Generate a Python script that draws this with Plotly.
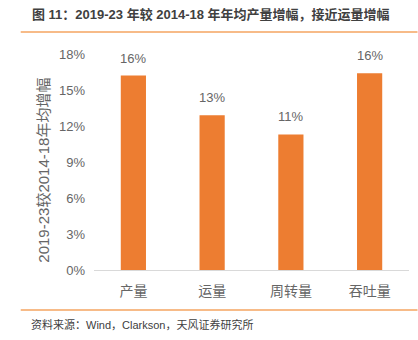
import plotly.graph_objects as go

categories = ["产量", "运量", "周转量", "吞吐量"]
values = [16.2, 12.9, 11.3, 16.4]
labels = ["16%", "13%", "11%", "16%"]
tick_vals = [0, 3, 6, 9, 12, 15, 18]
tick_text = ["0%", "3%", "6%", "9%", "12%", "15%", "18%"]

FONT = "Liberation Sans, Noto Sans CJK SC, sans-serif"
GRAY = "#666666"
ORANGE = "#ED7D31"

W, H = 418, 340
L, R, T, B = 93.5, 8.5, 54, 70
PW, PH = W - L - R, H - T - B

def px(x):
    return (x - L) / PW

def py(y):
    return (H - B - y) / PH

fig = go.Figure()
fig.add_trace(go.Bar(
    x=categories, y=values, width=0.32,
    marker=dict(color=ORANGE, line=dict(width=0)),
))

annotations = [
    dict(text=t, x=c, y=v, xref="x", yref="y", xanchor="center", yanchor="bottom",
         yshift=8, showarrow=False, font=dict(family=FONT, size=13, color=GRAY))
    for c, v, t in zip(categories, values, labels)
]
annotations += [
    dict(text="<b>图 11：2019-23 年较 2014-18 年年均产量增幅，接近运量增幅</b>",
         xref="paper", yref="paper", x=px(29), y=py(15), xanchor="left", yanchor="middle",
         showarrow=False, font=dict(family=FONT, size=13, color="#404040")),
    dict(text="2019-23较2014-18年均增幅", textangle=-90,
         xref="paper", yref="paper", x=px(42), y=py(170), xanchor="center", yanchor="middle",
         showarrow=False, font=dict(family=FONT, size=15, color=GRAY)),
    dict(text="资料来源：Wind，Clarkson，天风证券研究所",
         xref="paper", yref="paper", x=px(28), y=py(324), xanchor="left", yanchor="middle",
         showarrow=False, font=dict(family=FONT, size=11, color="#404040")),
]

fig.update_layout(
    width=W, height=H,
    margin=dict(l=L, r=R, t=T, b=B),
    paper_bgcolor="white", plot_bgcolor="white",
    showlegend=False,
    font=dict(family=FONT, color=GRAY),
    xaxis=dict(
        showgrid=False, showline=True, linecolor="#D9D9D9", linewidth=1,
        ticks="", tickfont=dict(family=FONT, size=14, color=GRAY), ticklabelstandoff=8,
    ),
    yaxis=dict(
        range=[0, 18], tickvals=tick_vals, ticktext=tick_text,
        showgrid=False, zeroline=False, showline=False, ticks="",
        tickfont=dict(family=FONT, size=13, color=GRAY), ticklabelstandoff=8,
    ),
    annotations=annotations,
    shapes=[
        dict(type="line", xref="paper", yref="paper", x0=px(20), x1=px(418), y0=py(32), y1=py(32),
             line=dict(color="#F4A460", width=1.5)),
        dict(type="line", xref="paper", yref="paper", x0=px(20), x1=px(418), y0=py(310), y1=py(310),
             line=dict(color="#F4A460", width=1.5)),
    ],
)

fig.write_html("out.html")
